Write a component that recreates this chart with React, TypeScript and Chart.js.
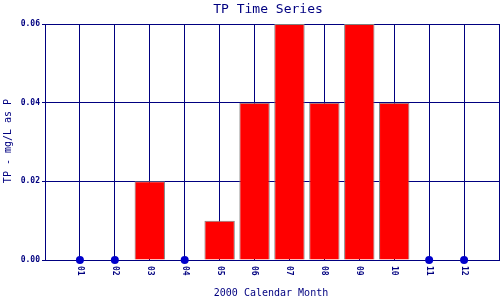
import React, { useEffect, useRef } from "react";
import { Chart, registerables } from "chart.js";

Chart.register(...registerables);

const months = ["01", "02", "03", "04", "05", "06", "07", "08", "09", "10", "11", "12"];
const tpValues = [0, 0, 0.02, 0, 0.01, 0.04, 0.06, 0.04, 0.06, 0.04, 0, 0];
const yTicks = [0, 0.02, 0.04, 0.06];
const titleText = "TP Time Series";
const xTitle = "2000 Calendar Month";
const yTitle = "TP - mg/L as P";

const NAVY = "#000080";
const MONO = "'DejaVu Sans Mono', 'Liberation Mono', monospace";

export default function App() {
  const ref = useRef<HTMLCanvasElement | null>(null);

  useEffect(() => {
    if (!ref.current) return;
    const barData = months
      .map((m, i) => ({ x: i + 1, y: tpValues[i] }))
      .filter((d) => d.y > 0);
    const zeroData = months
      .map((m, i) => ({ x: i + 1, y: tpValues[i] }))
      .filter((d) => d.y === 0);

    const textPlugin = {
      id: "texts",
      afterDraw(chart: any) {
        const ctx = chart.ctx;
        const ca = chart.chartArea;
        const xs = chart.scales.x;
        ctx.save();
        ctx.fillStyle = NAVY;
        ctx.font = `13px ${MONO}`;
        ctx.textAlign = "center";
        ctx.textBaseline = "middle";
        ctx.fillText(titleText, 268, 10);
        ctx.font = `10px ${MONO}`;
        ctx.fillText(xTitle, 271, 293);
        ctx.save();
        ctx.translate(8, 141);
        ctx.rotate(-Math.PI / 2);
        ctx.fillText(yTitle, 0, 0);
        ctx.restore();
        ctx.font = `bold 8px ${MONO}`;
        months.forEach((m, i) => {
          const px = xs.getPixelForValue(i + 1);
          ctx.save();
          ctx.translate(px, ca.bottom + 6);
          ctx.rotate(Math.PI / 2);
          ctx.textAlign = "left";
          ctx.textBaseline = "middle";
          ctx.fillText(m, 0, 0);
          ctx.restore();
        });
        ctx.restore();
      },
    };

    const chart = new Chart(ref.current, {
      type: "bar",
      data: {
        datasets: [
          {
            type: "bar",
            data: barData as any,
            backgroundColor: "#ff0000",
            borderColor: "#808080",
            borderWidth: 1,
            barPercentage: 1,
            categoryPercentage: 0.87,
            order: 2,
          } as any,
          {
            type: "scatter",
            data: zeroData as any,
            backgroundColor: "#0000cc",
            borderColor: "#0000cc",
            borderWidth: 0,
            pointRadius: 4,
            clip: false,
            order: 1,
          } as any,
        ],
      },
      plugins: [textPlugin],
      options: {
        animation: false,
        responsive: false,
        layout: { autoPadding: false, padding: { top: 24, right: 1, left: 0, bottom: 0 } },
        plugins: {
          legend: { display: false },
          title: { display: false },
          tooltip: { enabled: false },
        },
        scales: {
          x: {
            type: "linear",
            min: 0,
            max: 13,
            offset: false,
            ticks: { display: false, stepSize: 1 },
            grid: { color: NAVY, lineWidth: 1, drawTicks: false, offset: false },
            border: { color: NAVY },
            afterFit: (s: any) => {
              s.height = 40;
              s.paddingLeft = 0;
              s.paddingRight = 0;
            },
          },
          y: {
            min: 0,
            max: 0.06,
            afterBuildTicks: (s: any) => {
              s.ticks = yTicks.map((v) => ({ value: v }));
            },
            ticks: {
              color: NAVY,
              font: { family: MONO, size: 8, weight: "bold" },
              padding: 2,
              callback: (v: any) => Number(v).toFixed(2),
            },
            grid: { color: NAVY, lineWidth: 1, tickLength: 3 },
            border: { color: NAVY },
            afterFit: (s: any) => {
              s.width = 45;
              s.paddingTop = 0;
              s.paddingBottom = 0;
            },
          },
        },
      } as any,
    });
    return () => chart.destroy();
  }, []);

  return (
    <div style={{ position: "absolute", left: 0, top: 0, width: 500, height: 300, background: "#fff" }}>
      <canvas ref={ref} width={500} height={300} style={{ width: 500, height: 300 }} />
    </div>
  );
}
